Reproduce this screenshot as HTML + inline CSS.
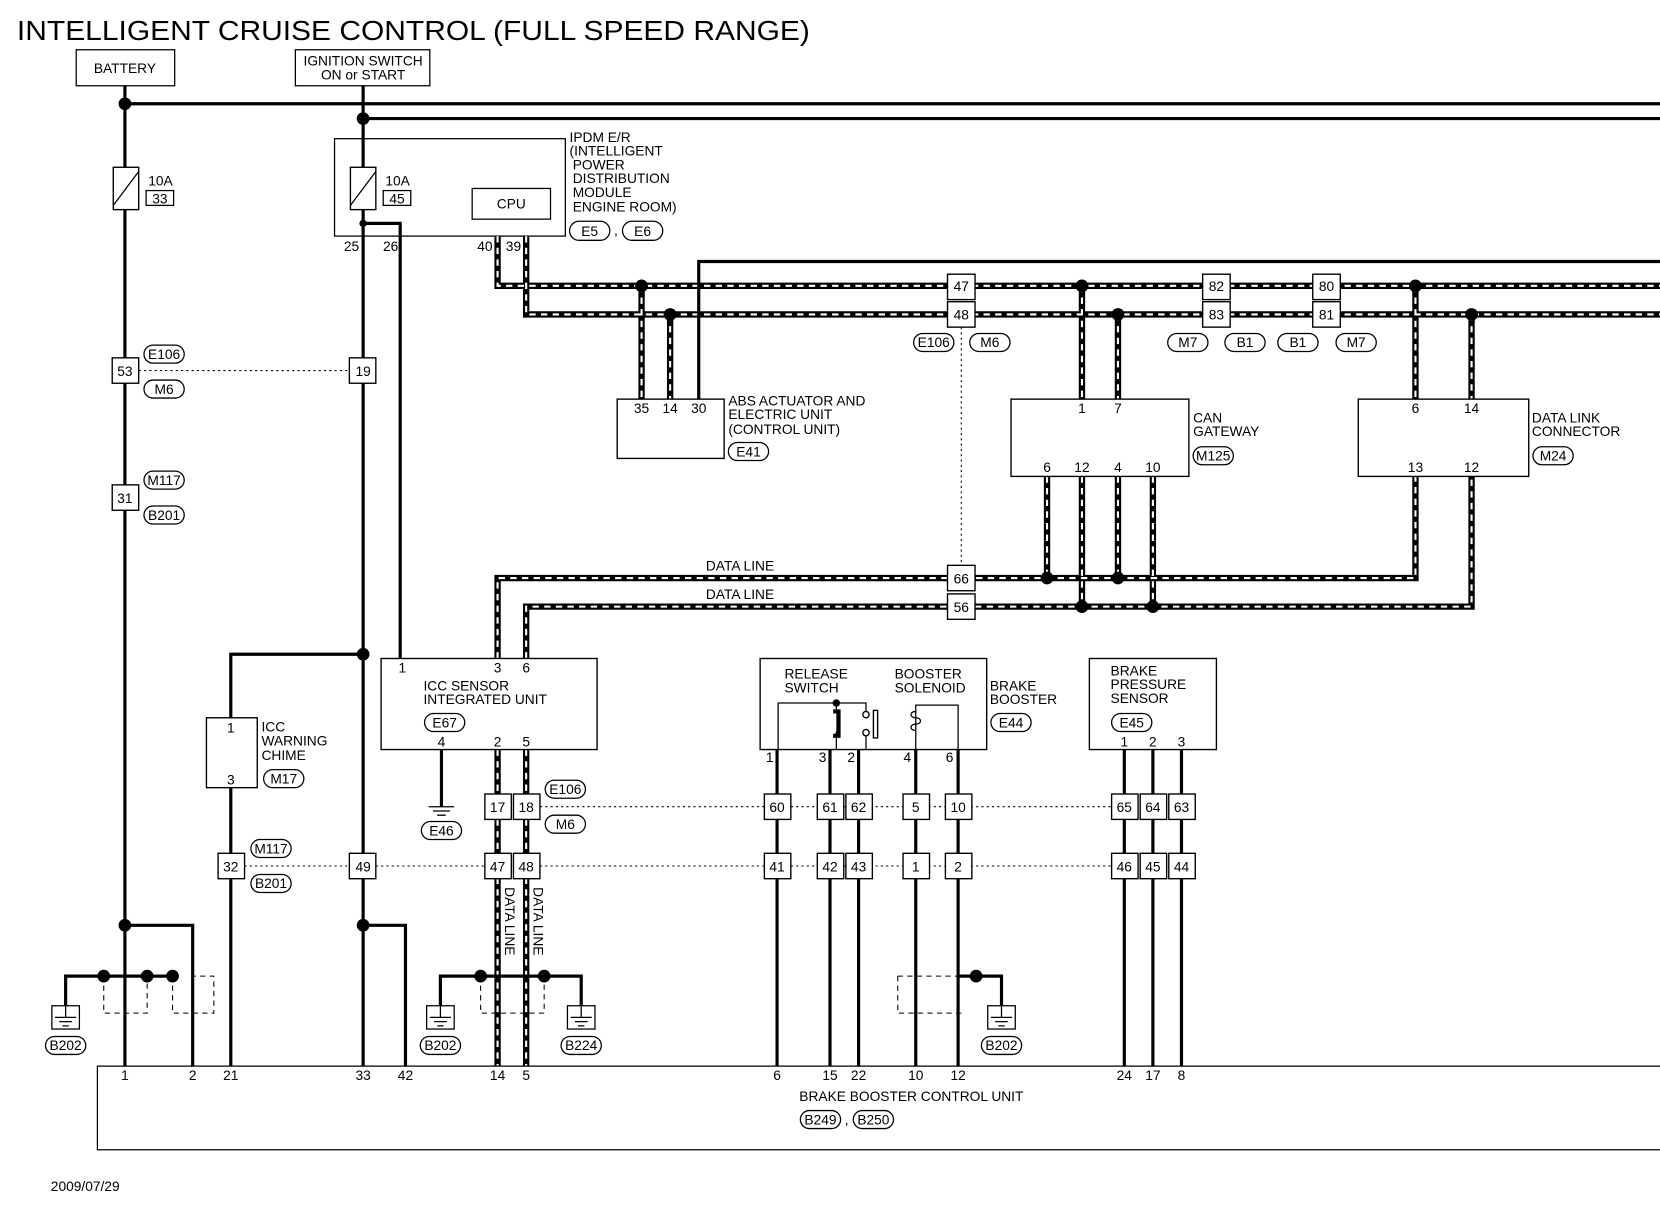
<!DOCTYPE html>
<html><head><meta charset="utf-8"><style>
html,body{margin:0;padding:0;background:#fff;}
svg{display:block}
text{font-family:"Liberation Sans",sans-serif;font-size:13px;fill:#000}
.w{stroke:#000;stroke-width:3;fill:none}
.t{stroke:#000;stroke-width:1.2;fill:none}
.b{stroke:#000;stroke-width:1.3;fill:#fff}
.dt{stroke:#000;stroke-width:1;stroke-dasharray:2 3;fill:none}
.dsh{stroke:#000;stroke-width:1;stroke-dasharray:5 4;fill:none}
.dk{stroke:#000;stroke-width:6;fill:none}
.dw{stroke:#fff;stroke-width:2;stroke-dasharray:6 5;fill:none}
.c{text-anchor:middle}
</style></head><body>
<svg width="1660" height="1216" viewBox="0 0 1568 1148.6" preserveAspectRatio="none">
<rect width="1568" height="1149" fill="#fff"/>
<text x="16" y="38" style="font-size:26px" textLength="749" lengthAdjust="spacingAndGlyphs">INTELLIGENT CRUISE CONTROL (FULL SPEED RANGE)</text>

<rect x="72" y="47" width="93" height="34" class="t"/>
<text x="118" y="69" class="c">BATTERY</text>
<rect x="279" y="47" width="127" height="34" class="t"/>
<text x="343" y="62" class="c">IGNITION SWITCH</text>
<text x="343" y="75" class="c">ON or START</text>

<path d="M118 81V1007M118 98H1568M343 81V1007M343 112H1568" class="w"/>
<circle cx="118" cy="98" r="6"/><circle cx="343" cy="112" r="6"/>

<rect x="107" y="158" width="24" height="40" class="b"/>
<path d="M107 194L131 162" class="t"/>
<text x="140" y="175">10A</text>
<rect x="138" y="180" width="26" height="14" class="t"/><text x="151" y="192" class="c">33</text>

<rect x="316" y="131" width="218" height="92" class="t"/>
<rect x="331" y="158" width="24" height="40" class="b"/>
<path d="M331 194L355 162" class="t"/>
<text x="364" y="175">10A</text>
<rect x="362" y="180" width="26" height="14" class="t"/><text x="375" y="192" class="c">45</text>
<rect x="446" y="178" width="74" height="29" class="t"/><text x="483" y="197" class="c">CPU</text>
<circle cx="343" cy="211" r="3.5"/>
<path d="M343 211H378V622" class="w"/>
<text x="332" y="237" class="c">25</text><text x="369" y="237" class="c">26</text>
<text x="458" y="237" class="c">40</text><text x="485" y="237" class="c">39</text>
<text x="538" y="134">IPDM E/R</text>
<text x="538" y="147">(INTELLIGENT</text>
<text x="541" y="160">POWER</text>
<text x="541" y="173">DISTRIBUTION</text>
<text x="541" y="186">MODULE</text>
<text x="541" y="200">ENGINE ROOM)</text>
<rect x="538" y="209" width="38" height="18" rx="9" class="t"/><text x="557" y="223" class="c">E5</text>
<text x="580" y="222">,</text>
<rect x="588" y="209" width="38" height="18" rx="9" class="t"/><text x="607" y="223" class="c">E6</text>

<path d="M470 223V270H1568M497 223V297H1568M606 270V377M633 297V377M1022 270V377M1056 297V377M1337 270V377M1390 297V377M989 450V546M1022 450V573M1056 450V546M1089 450V573M470 622V546H1337V450M497 622V573H1390V450M470 708V1007M497 708V1007" class="dk"/>
<path d="M470 223V270H1568M497 223V297H1568M606 270V377M633 297V377M1022 270V377M1056 297V377M1337 270V377M1390 297V377M989 450V546M1022 450V573M1056 450V546M1089 450V573M470 622V546H1337V450M497 622V573H1390V450M470 708V1007M497 708V1007" class="dw"/>
<circle cx="606" cy="270" r="6"/><circle cx="633" cy="297" r="6"/>
<circle cx="1022" cy="270" r="6"/><circle cx="1056" cy="297" r="6"/>
<circle cx="1337" cy="270" r="6"/><circle cx="1390" cy="297" r="6"/>
<circle cx="989" cy="546" r="6"/><circle cx="1056" cy="546" r="6"/>
<circle cx="1022" cy="573" r="6"/><circle cx="1089" cy="573" r="6"/>

<path d="M660 377V247H1568" class="w"/>

<rect x="895" y="259" width="26" height="24" class="b"/><text x="908" y="275" class="c">47</text>
<rect x="895" y="285" width="26" height="24" class="b"/><text x="908" y="302" class="c">48</text>
<rect x="1136" y="259" width="26" height="24" class="b"/><text x="1149" y="275" class="c">82</text>
<rect x="1136" y="285" width="26" height="24" class="b"/><text x="1149" y="302" class="c">83</text>
<rect x="1240" y="259" width="26" height="24" class="b"/><text x="1253" y="275" class="c">80</text>
<rect x="1240" y="285" width="26" height="24" class="b"/><text x="1253" y="302" class="c">81</text>
<rect x="863" y="315" width="38" height="17" rx="8.5" class="t"/><text x="882" y="328" class="c">E106</text>
<rect x="916" y="315" width="38" height="17" rx="8.5" class="t"/><text x="935" y="328" class="c">M6</text>
<rect x="1103" y="315" width="38" height="17" rx="8.5" class="t"/><text x="1122" y="328" class="c">M7</text>
<rect x="1157" y="315" width="38" height="17" rx="8.5" class="t"/><text x="1176" y="328" class="c">B1</text>
<rect x="1207" y="315" width="38" height="17" rx="8.5" class="t"/><text x="1226" y="328" class="c">B1</text>
<rect x="1262" y="315" width="38" height="17" rx="8.5" class="t"/><text x="1281" y="328" class="c">M7</text>
<path d="M908 309V534" class="dt"/>

<rect x="583" y="377" width="101" height="56" class="b"/>
<text x="606" y="390" class="c">35</text><text x="633" y="390" class="c">14</text><text x="660" y="390" class="c">30</text>
<text x="688" y="383">ABS ACTUATOR AND</text>
<text x="688" y="396">ELECTRIC UNIT</text>
<text x="688" y="410">(CONTROL UNIT)</text>
<rect x="688" y="418" width="38" height="17" rx="8.5" class="t"/><text x="707" y="431" class="c">E41</text>

<rect x="955" y="377" width="168" height="73" class="b"/>
<text x="1022" y="390" class="c">1</text><text x="1056" y="390" class="c">7</text>
<text x="989" y="446" class="c">6</text><text x="1022" y="446" class="c">12</text><text x="1056" y="446" class="c">4</text><text x="1089" y="446" class="c">10</text>
<text x="1127" y="399">CAN</text><text x="1127" y="412">GATEWAY</text>
<rect x="1127" y="422" width="38" height="17" rx="8.5" class="t"/><text x="1146" y="435" class="c">M125</text>

<rect x="1283" y="377" width="161" height="73" class="b"/>
<text x="1337" y="390" class="c">6</text><text x="1390" y="390" class="c">14</text>
<text x="1337" y="446" class="c">13</text><text x="1390" y="446" class="c">12</text>
<text x="1447" y="399">DATA LINK</text><text x="1447" y="412">CONNECTOR</text>
<rect x="1448" y="422" width="38" height="17" rx="8.5" class="t"/><text x="1467" y="435" class="c">M24</text>

<text x="699" y="539" class="c">DATA LINE</text>
<text x="699" y="566" class="c">DATA LINE</text>
<rect x="895" y="534" width="26" height="24" class="b"/><text x="908" y="551" class="c">66</text>
<rect x="895" y="561" width="26" height="24" class="b"/><text x="908" y="578" class="c">56</text>

<path d="M131 350H330M231 818H330M355 818H458M510 818H722M747 818H1050M510 762H722M747 762H1050" class="dt"/>
<rect x="106" y="338" width="25" height="24" class="b"/><text x="118" y="355" class="c">53</text>
<rect x="136" y="326" width="38" height="17" rx="8.5" class="t"/><text x="155" y="339" class="c">E106</text>
<rect x="136" y="359" width="38" height="17" rx="8.5" class="t"/><text x="155" y="372" class="c">M6</text>
<rect x="330" y="338" width="25" height="24" class="b"/><text x="343" y="355" class="c">19</text>
<rect x="106" y="458" width="25" height="24" class="b"/><text x="118" y="475" class="c">31</text>
<rect x="136" y="445" width="38" height="17" rx="8.5" class="t"/><text x="155" y="458" class="c">M117</text>
<rect x="136" y="478" width="38" height="17" rx="8.5" class="t"/><text x="155" y="491" class="c">B201</text>

<path d="M343 618H218V1007" class="w"/>
<circle cx="343" cy="618" r="6"/>
<rect x="195" y="678" width="48" height="66" class="b"/>
<text x="218" y="692" class="c">1</text><text x="218" y="741" class="c">3</text>
<text x="247" y="691">ICC</text><text x="247" y="704">WARNING</text><text x="247" y="718">CHIME</text>
<rect x="249" y="727" width="38" height="17" rx="8.5" class="t"/><text x="268" y="740" class="c">M17</text>
<rect x="206" y="806" width="25" height="24" class="b"/><text x="218" y="823" class="c">32</text>
<rect x="237" y="793" width="38" height="17" rx="8.5" class="t"/><text x="256" y="806" class="c">M117</text>
<rect x="237" y="826" width="38" height="17" rx="8.5" class="t"/><text x="256" y="839" class="c">B201</text>
<rect x="330" y="806" width="25" height="24" class="b"/><text x="343" y="823" class="c">49</text>

<path d="M118 874H182V1007M343 874H383V1007" class="w"/>
<circle cx="118" cy="874" r="6"/><circle cx="343" cy="874" r="6"/>

<rect x="360" y="622" width="204" height="86" class="b"/>
<text x="380" y="635" class="c">1</text><text x="470" y="635" class="c">3</text><text x="497" y="635" class="c">6</text>
<text x="400" y="652">ICC SENSOR</text><text x="400" y="665">INTEGRATED UNIT</text>
<rect x="401" y="674" width="38" height="17" rx="8.5" class="t"/><text x="420" y="687" class="c">E67</text>
<text x="417" y="705" class="c">4</text><text x="470" y="705" class="c">2</text><text x="497" y="705" class="c">5</text>
<path d="M417 708V762" class="w"/>
<path d="M405 762H429M409 766H425M413 770H421" class="t"/>
<rect x="398" y="776" width="38" height="17" rx="8.5" class="t"/><text x="417" y="789" class="c">E46</text>
<rect x="458" y="750" width="25" height="24" class="b"/><text x="470" y="767" class="c">17</text>
<rect x="485" y="750" width="25" height="24" class="b"/><text x="497" y="767" class="c">18</text>
<rect x="515" y="737" width="38" height="17" rx="8.5" class="t"/><text x="534" y="750" class="c">E106</text>
<rect x="515" y="770" width="38" height="17" rx="8.5" class="t"/><text x="534" y="783" class="c">M6</text>
<rect x="458" y="806" width="25" height="24" class="b"/><text x="470" y="823" class="c">47</text>
<rect x="485" y="806" width="25" height="24" class="b"/><text x="497" y="823" class="c">48</text>
<text transform="translate(477,838) rotate(90)">DATA LINE</text>
<text transform="translate(504,838) rotate(90)">DATA LINE</text>

<path d="M62 950V922H163M416 950V922H549V950M905 922H946V950" class="w"/>
<circle cx="98" cy="922" r="6"/><circle cx="139" cy="922" r="6"/><circle cx="163" cy="922" r="6"/>
<circle cx="454" cy="922" r="6"/><circle cx="514" cy="922" r="6"/><circle cx="922" cy="922" r="6"/>
<path d="M98 922V957H139V922M163 922V957H202V922H182M454 922V957H514V922M848 922V957H908M848 922H905" class="dsh"/>
<g class="t">
<rect x="49" y="950" width="26" height="22"/><path d="M52 961H72M56 965H68M59 969H65M62 950V961"/>
<rect x="403" y="950" width="26" height="22"/><path d="M406 961H426M410 965H422M413 969H419M416 950V961"/>
<rect x="536" y="950" width="26" height="22"/><path d="M539 961H559M543 965H555M546 969H552M549 950V961"/>
<rect x="933" y="950" width="26" height="22"/><path d="M936 961H956M940 965H952M943 969H949M946 950V961"/>
</g>
<rect x="43" y="979" width="38" height="17" rx="8.5" class="t"/><text x="62" y="992" class="c">B202</text>
<rect x="397" y="979" width="38" height="17" rx="8.5" class="t"/><text x="416" y="992" class="c">B202</text>
<rect x="530" y="979" width="38" height="17" rx="8.5" class="t"/><text x="549" y="992" class="c">B224</text>
<rect x="927" y="979" width="38" height="17" rx="8.5" class="t"/><text x="946" y="992" class="c">B202</text>

<rect x="718" y="622" width="214" height="86" class="b"/>
<text x="741" y="641">RELEASE</text><text x="741" y="654">SWITCH</text>
<text x="845" y="641">BOOSTER</text><text x="845" y="654">SOLENOID</text>
<text x="935" y="652">BRAKE</text><text x="935" y="665">BOOSTER</text>
<rect x="936" y="674" width="38" height="17" rx="8.5" class="t"/><text x="955" y="687" class="c">E44</text>
<path d="M735 708V664H818V672M818 689V708M865 708V666H905V708" class="t"/>
<circle cx="790" cy="664" r="3.5"/>
<path d="M790 664V672M790 691V708" class="t"/>
<path d="M787 672H792V695H787" stroke="#000" stroke-width="4" fill="none"/>
<circle cx="818" cy="675" r="3" class="b"/><circle cx="818" cy="692" r="3" class="b"/>
<rect x="825" y="671" width="4" height="26" class="b"/>
<path d="M865 672c-6 0-6 6 0 6c6 0 6 6 0 6c-6 0-6 6 0 6" class="t"/>
<text x="727" y="720" class="c">1</text><text x="777" y="720" class="c">3</text><text x="804" y="720" class="c">2</text><text x="857" y="720" class="c">4</text><text x="897" y="720" class="c">6</text>
<path d="M734 708V1007M784 708V1007M811 708V1007M865 708V1007M905 708V1007" class="w"/>

<rect x="1029" y="622" width="120" height="86" class="b"/>
<text x="1049" y="638">BRAKE</text><text x="1049" y="651">PRESSURE</text><text x="1049" y="664">SENSOR</text>
<rect x="1050" y="674" width="38" height="17" rx="8.5" class="t"/><text x="1069" y="687" class="c">E45</text>
<text x="1062" y="705" class="c">1</text><text x="1089" y="705" class="c">2</text><text x="1116" y="705" class="c">3</text>
<path d="M1062 708V1007M1089 708V1007M1116 708V1007" class="w"/>

<g>
<rect x="722" y="750" width="25" height="24" class="b"/><text x="734" y="767" class="c">60</text>
<rect x="772" y="750" width="25" height="24" class="b"/><text x="784" y="767" class="c">61</text>
<rect x="799" y="750" width="25" height="24" class="b"/><text x="811" y="767" class="c">62</text>
<rect x="853" y="750" width="25" height="24" class="b"/><text x="865" y="767" class="c">5</text>
<rect x="893" y="750" width="25" height="24" class="b"/><text x="905" y="767" class="c">10</text>
<rect x="1050" y="750" width="25" height="24" class="b"/><text x="1062" y="767" class="c">65</text>
<rect x="1077" y="750" width="25" height="24" class="b"/><text x="1089" y="767" class="c">64</text>
<rect x="1104" y="750" width="25" height="24" class="b"/><text x="1116" y="767" class="c">63</text>
<rect x="722" y="806" width="25" height="24" class="b"/><text x="734" y="823" class="c">41</text>
<rect x="772" y="806" width="25" height="24" class="b"/><text x="784" y="823" class="c">42</text>
<rect x="799" y="806" width="25" height="24" class="b"/><text x="811" y="823" class="c">43</text>
<rect x="853" y="806" width="25" height="24" class="b"/><text x="865" y="823" class="c">1</text>
<rect x="893" y="806" width="25" height="24" class="b"/><text x="905" y="823" class="c">2</text>
<rect x="1050" y="806" width="25" height="24" class="b"/><text x="1062" y="823" class="c">46</text>
<rect x="1077" y="806" width="25" height="24" class="b"/><text x="1089" y="823" class="c">45</text>
<rect x="1104" y="806" width="25" height="24" class="b"/><text x="1116" y="823" class="c">44</text>
</g>

<path d="M1568 1007H92V1086H1568" class="t"/>
<g class="c">
<text x="118" y="1020" class="c">1</text><text x="182" y="1020" class="c">2</text><text x="218" y="1020" class="c">21</text>
<text x="343" y="1020" class="c">33</text><text x="383" y="1020" class="c">42</text>
<text x="470" y="1020" class="c">14</text><text x="497" y="1020" class="c">5</text>
<text x="734" y="1020" class="c">6</text><text x="784" y="1020" class="c">15</text><text x="811" y="1020" class="c">22</text>
<text x="865" y="1020" class="c">10</text><text x="905" y="1020" class="c">12</text>
<text x="1062" y="1020" class="c">24</text><text x="1089" y="1020" class="c">17</text><text x="1116" y="1020" class="c">8</text>
</g>
<text x="755" y="1040">BRAKE BOOSTER CONTROL UNIT</text>
<rect x="756" y="1049" width="38" height="17" rx="8.5" class="t"/><text x="775" y="1062" class="c">B249</text>
<text x="798" y="1062">,</text>
<rect x="806" y="1049" width="38" height="17" rx="8.5" class="t"/><text x="825" y="1062" class="c">B250</text>

<text x="48" y="1125">2009/07/29</text>
</svg>
</body></html>
